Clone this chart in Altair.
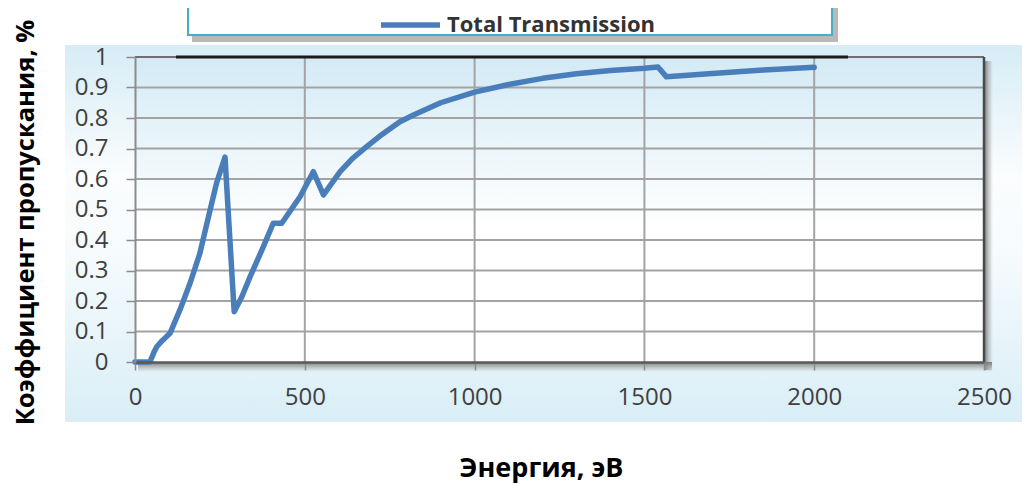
import altair as alt
import pandas as pd

# ---------------- data ----------------
energy = [0, 20, 44, 55, 64, 80, 103, 132, 162, 191, 221, 240, 265,
          292, 315, 339, 378, 407, 432, 460, 486, 525, 555, 604, 640,
          682, 720, 780, 820, 900, 1000, 1100, 1200, 1300, 1400, 1500,
          1540, 1565, 1700, 1850, 2000]
transmission = [0.0, 0.0, 0.0, 0.03, 0.05, 0.07, 0.094, 0.17, 0.258, 0.356, 0.498, 0.586, 0.672,
                0.165, 0.215, 0.28, 0.378, 0.455, 0.455, 0.5, 0.542, 0.624, 0.548, 0.624, 0.667,
                0.706, 0.74, 0.788, 0.81, 0.85, 0.885, 0.91, 0.93, 0.945, 0.956, 0.963,
                0.967, 0.935, 0.946, 0.957, 0.966]
series_name = "Total Transmission"
x_ticks = [0, 500, 1000, 1500, 2000, 2500]
y_ticks = [0, 0.1, 0.2, 0.3, 0.4, 0.5, 0.6, 0.7, 0.8, 0.9, 1.0]
x_title = "Энергия, эВ"
y_title = "Коэффициент пропускания, %"

df = pd.DataFrame({"E": energy, "T": transmission, "series": [series_name] * len(energy)})
one = pd.DataFrame({"k": [0]})
vgrid = pd.DataFrame({"E": x_ticks[1:-1]})
hgrid = pd.DataFrame({"T": y_ticks[1:-1]})

W, H = 849, 305
FONT = "Open Sans"

xs = alt.Scale(domain=[0, 2500], nice=False, zero=False)
ys = alt.Scale(domain=[0, 1], nice=False, zero=False)

x_axis = alt.Axis(values=x_ticks, format="d", grid=False, domainColor="#5a5a5a", domainWidth=2.5,
                  tickColor="#8c8c8c", tickSize=8, tickWidth=1.5,
                  labelFont=FONT, labelFontSize=24, labelColor="#404040", labelPadding=15,
                  labelFlush=False, labelOverlap=False,
                  title=x_title, titleFont=FONT, titleFontSize=27, titleFontWeight="bold",
                  titleColor="#000000", titleX=406, titleY=114, titleAlign="center",
                  titleBaseline="alphabetic", zindex=1)
y_axis = alt.Axis(values=y_ticks, format="~g", grid=False, domainColor="#8c8c8c", domainWidth=2,
                  tickColor="#8c8c8c", tickSize=9, tickWidth=1.5,
                  labelFont=FONT, labelFontSize=24, labelColor="#404040", labelPadding=18,
                  labelOverlap=False, labelFlush=False,
                  title=y_title, titleFont=FONT, titleFontSize=25.5, titleFontWeight="bold",
                  titleColor="#000000", titleAngle=270, titleX=-102, titleY=165,
                  titleAlign="center", titleBaseline="alphabetic", titleLimit=1000, zindex=1)

def grad(stops, horizontal=False):
    if horizontal:
        return alt.LinearGradient(gradient="linear", x1=0, x2=1, y1=0, y2=0,
                                  stops=[alt.GradientStop(color=c, offset=o) for o, c in stops])
    return alt.LinearGradient(gradient="linear", x1=0, x2=0, y1=0, y2=1,
                              stops=[alt.GradientStop(color=c, offset=o) for o, c in stops])

def box(x, x2, y, y2, **mark):
    return alt.Chart(one).mark_rect(**mark).encode(
        x=alt.value(x), x2=alt.value(x2), y=alt.value(y), y2=alt.value(y2))

outer_bg = box(-70, 887, -12, 365,
               fill=grad([(0, "#d6ecf6"), (0.35, "#fbfdfe"), (0.55, "#f6fbfd"), (1, "#d9eef7")]))
legend_shadow = box(57, 703, -60, -15, fill="#808080", opacity=0.55)
legend_box = box(53, 697, -66, -22, fill="white", stroke="#4bacc6", strokeWidth=2)
shadow_r = box(W, W + 9, 4, H + 8, fill=grad([(0, "#7a7a7a"), (1, "rgba(160,160,160,0)")], horizontal=True))
shadow_b = box(3, W + 8, H, H + 10, fill=grad([(0, "#7a7a7a"), (1, "rgba(160,160,160,0)")]))
plot_bg = box(0, W, 0, H, fill=grad([(0, "#d3eaf5"), (0.55, "#ffffff"), (1, "#ffffff")]))

vlines = alt.Chart(vgrid).mark_rule(color="#a3a3a3", strokeWidth=2).encode(
    x=alt.X("E:Q", scale=xs, axis=x_axis))
hlines = alt.Chart(hgrid).mark_rule(color="#a3a3a3", strokeWidth=2).encode(
    y=alt.Y("T:Q", scale=ys, axis=y_axis))

top_border = alt.Chart(one).mark_rule(color="#6e6e6e", strokeWidth=2).encode(
    x=alt.value(0), x2=alt.value(W), y=alt.value(0))
top_black = alt.Chart(one).mark_rule(color="#1a1a1a", strokeWidth=3).encode(
    x=alt.value(41), x2=alt.value(713), y=alt.value(0))
right_border = alt.Chart(one).mark_rule(color="#4a4a4a", strokeWidth=2.5).encode(
    x=alt.value(W), y=alt.value(0), y2=alt.value(H))

line = alt.Chart(df).mark_line(strokeWidth=5.5, strokeJoin="round", strokeCap="round").encode(
    x=alt.X("E:Q", scale=xs, axis=x_axis),
    y=alt.Y("T:Q", scale=ys, axis=y_axis),
    color=alt.Color("series:N", scale=alt.Scale(range=["#4a7ebb"]),
                    legend=alt.Legend(orient="none", legendX=243, legendY=-64.5,
                                      direction="horizontal", title=None,
                                      symbolType="stroke", symbolSize=3481,
                                      symbolStrokeWidth=5.5, labelFont=FONT,
                                      labelFontSize=22, labelFontWeight="bold",
                                      labelColor="#333333", labelOffset=4,
                                      padding=0, labelLimit=400)),
)

chart = alt.layer(
    outer_bg, legend_shadow, legend_box, shadow_r, shadow_b, plot_bg,
    vlines, hlines, top_border, top_black, right_border, line
).properties(
    width=W, height=H,
    autosize=alt.AutoSizeParams(type="none"),
    padding={"left": 127, "top": 49, "right": 38, "bottom": 122},
    background="white",
).configure_view(stroke=None)

chart.save("out.html", embed_options={"renderer": "svg", "actions": False})
